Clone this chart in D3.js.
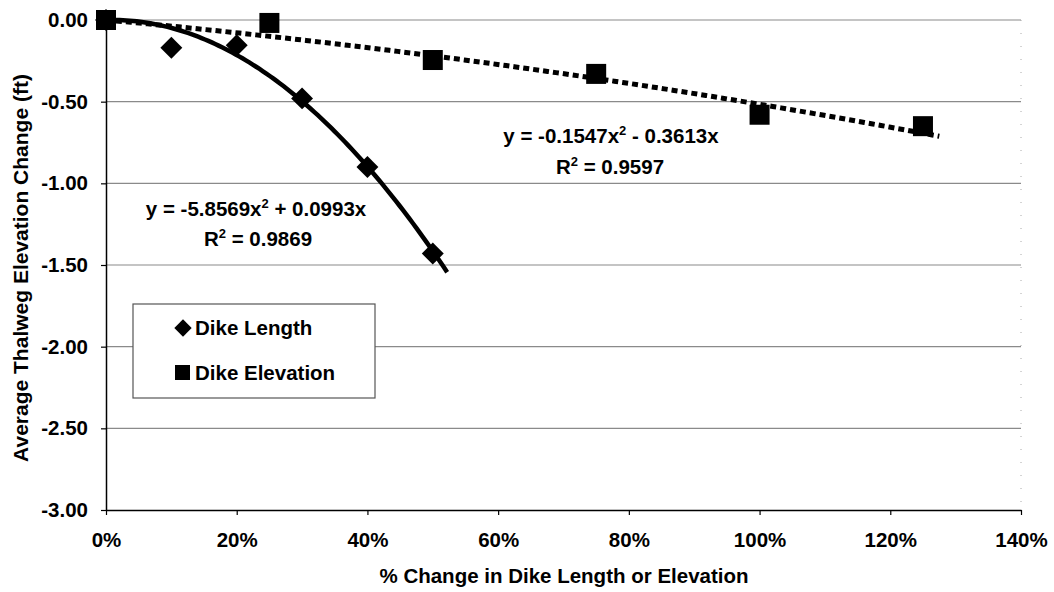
<!DOCTYPE html>
<html><head><meta charset="utf-8">
<script src="https://cdn.jsdelivr.net/npm/d3@7"></script>
<style>body{margin:0;background:#fff}svg{display:block}text{font-family:"Liberation Sans",Arial,sans-serif;font-weight:bold;fill:#000}</style>
</head><body><svg id="c" width="1054" height="592"></svg>
<script>
const lengthX = [0, 0.10, 0.20, 0.30, 0.40, 0.50];
const lengthY = [0, -0.17, -0.155, -0.48, -0.90, -1.43];
const elevX = [0, 0.25, 0.50, 0.75, 1.00, 1.25];
const elevY = [0, -0.018, -0.245, -0.33, -0.58, -0.65];
const lengthFit = [-5.8569, 0.0993];   // a x^2 + b x
const elevFit = [-0.1547, -0.3613];
const lengthFitEnd = 0.522;
const elevFitEnd = 1.275;
const xTicks = [0, 0.2, 0.4, 0.6, 0.8, 1.0, 1.2, 1.4];
const yTicks = [0, -0.5, -1.0, -1.5, -2.0, -2.5, -3.0];

const FS = "20.5px";
const svg = d3.select("#c");
const x = d3.scaleLinear().domain([0, 1.4]).range([106, 1021]);
const y = d3.scaleLinear().domain([-3, 0]).range([510, 20]);

// gridlines
svg.append("g").selectAll("line").data(yTicks.filter(d => d > -3)).join("line")
  .attr("x1", x(0)).attr("x2", x(1.4)).attr("y1", d => y(d)).attr("y2", d => y(d))
  .attr("stroke", "#8a8a8a").attr("stroke-width", 1.2);
// right border faint dotted
svg.append("line").attr("x1", x(1.4)).attr("x2", x(1.4)).attr("y1", y(0)).attr("y2", y(-3))
  .attr("stroke", "#aaa").attr("stroke-width", 1).attr("stroke-dasharray", "1,12");

// axes
const yAxis = d3.axisLeft(y).tickValues(yTicks).tickFormat(d => d.toFixed(2)).tickSize(5).tickSizeOuter(0);
const gy = svg.append("g").attr("transform", `translate(${x(0)},0)`).call(yAxis);
gy.select(".domain").attr("stroke", "#000").attr("stroke-width", 1.5);
gy.selectAll(".tick line").attr("stroke", "#000").attr("stroke-width", 1.2);
gy.selectAll(".tick text").attr("x", -18).style("font-size", FS).style("font-family", "Liberation Sans, Arial, sans-serif").style("font-weight", "bold");

const xAxis = d3.axisBottom(x).tickValues(xTicks).tickFormat(d => Math.round(d * 100) + "%").tickSize(5).tickSizeOuter(0);
const gx = svg.append("g").attr("transform", `translate(0,${y(-3)})`).call(xAxis);
gx.select(".domain").attr("stroke", "#000").attr("stroke-width", 1.5);
gx.selectAll(".tick line").attr("stroke", "#000").attr("stroke-width", 1.2);
gx.selectAll(".tick text").attr("y", 22).style("font-size", FS).style("font-family", "Liberation Sans, Arial, sans-serif").style("font-weight", "bold");

// trendlines
const fitLine = d3.line().x(d => x(d[0])).y(d => y(d[1])).curve(d3.curveLinear);
const samp = (end, c) => d3.range(0, 101).map(i => { const v = end * i / 100; return [v, c[0] * v * v + c[1] * v]; });
svg.append("path").attr("d", fitLine(samp(elevFitEnd, elevFit))).attr("fill", "none")
  .attr("stroke", "#000").attr("stroke-width", 5).attr("stroke-dasharray", "6,4");
svg.append("path").attr("d", fitLine(samp(lengthFitEnd, lengthFit))).attr("fill", "none")
  .attr("stroke", "#000").attr("stroke-width", 4.5);

// markers
svg.append("g").selectAll("rect").data(elevX.map((v, i) => [v, elevY[i]])).join("rect")
  .attr("x", d => x(d[0]) - 10).attr("y", d => y(d[1]) - 10).attr("width", 20).attr("height", 20).attr("fill", "#000");
const diamond = d3.symbol().type(d3.symbolSquare).size(240);
svg.append("g").selectAll("path").data(lengthX.map((v, i) => [v, lengthY[i]])).join("path")
  .attr("d", diamond).attr("transform", d => `translate(${x(d[0])},${y(d[1])}) rotate(45)`).attr("fill", "#000");

// equation labels
function eq(cx, cyy, cx2, cyy2, a, b, r2) {
  const t = svg.append("text").attr("x", cx).attr("y", cyy).attr("text-anchor", "middle").style("font-size", FS);
  t.append("tspan").text(`y = ${a}x`);
  t.append("tspan").text("2").attr("dy", -8).style("font-size", "13px");
  t.append("tspan").text(` ${b}x`).attr("dy", 8);
  const t2 = svg.append("text").attr("x", cx2).attr("y", cyy2).attr("text-anchor", "middle").style("font-size", FS);
  t2.append("tspan").text("R");
  t2.append("tspan").text("2").attr("dy", -8).style("font-size", "13px");
  t2.append("tspan").text(` = ${r2}`).attr("dy", 8);
}
eq(256, 216, 258, 246, "-5.8569", "+ 0.0993", "0.9869");
eq(611, 143, 610, 174, "-0.1547", "- 0.3613", "0.9597");

// legend
const lg = svg.append("g");
lg.append("rect").attr("x", 133).attr("y", 304).attr("width", 242).attr("height", 94)
  .attr("fill", "#fff").attr("stroke", "#555").attr("stroke-width", 1.2);
lg.append("path").attr("d", d3.symbol().type(d3.symbolSquare).size(150)).attr("transform", "translate(183,328) rotate(45)").attr("fill", "#000");
lg.append("text").attr("x", 195).attr("y", 335).style("font-size", FS).text("Dike Length");
lg.append("rect").attr("x", 175).attr("y", 365).attr("width", 15).attr("height", 15).attr("fill", "#000");
lg.append("text").attr("x", 195).attr("y", 380).style("font-size", FS).text("Dike Elevation");

// axis titles
svg.append("text").attr("x", 564).attr("y", 583).attr("text-anchor", "middle").style("font-size", FS)
  .text("% Change in Dike Length or Elevation");
svg.append("text").attr("transform", "translate(28,268) rotate(-90)").attr("text-anchor", "middle").style("font-size", "21px")
  .text("Average Thalweg Elevation Change (ft)");
</script></body></html>
